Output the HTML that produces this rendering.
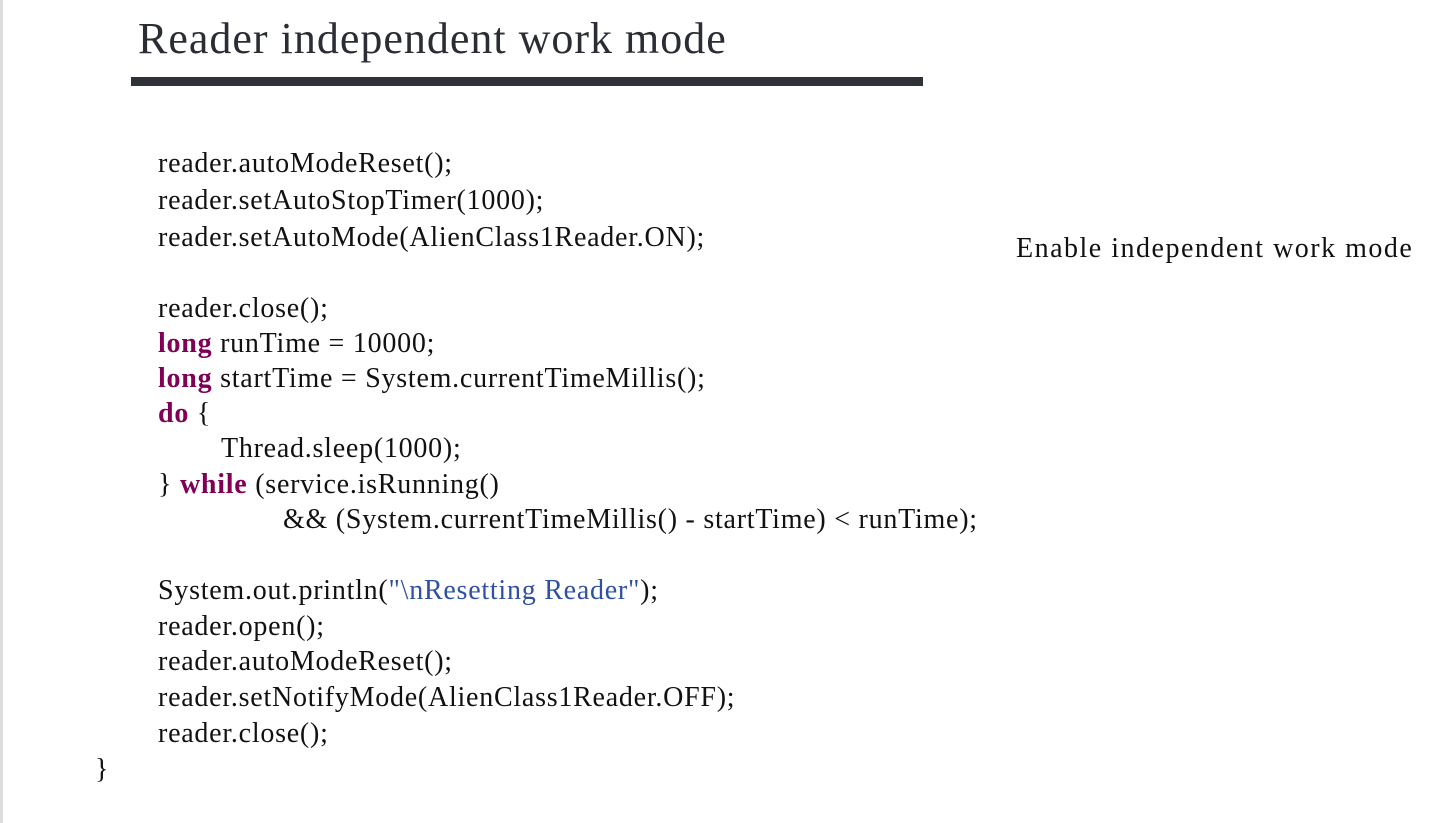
<!DOCTYPE html>
<html><head><meta charset="utf-8"><style>
body{margin:0;width:1430px;height:823px;background:#fff;position:relative;overflow:hidden;font-family:"Liberation Serif",serif}
.strip{position:absolute;left:0;top:0;width:3px;height:823px;background:#dcdcdc}
.t{position:absolute;left:138px;top:13px;font-size:44px;letter-spacing:1px;color:#2a2d33;white-space:nowrap}
.bar{position:absolute;left:131px;top:77px;width:792px;height:9px;background:#2f3238}
.c{position:absolute;font-size:28px;letter-spacing:0.75px;color:#111;white-space:nowrap;line-height:30px}
.k{color:#7f0055;font-weight:bold}
.s{color:#3050a0}
.n{position:absolute;left:1016px;top:233px;font-size:28px;letter-spacing:1.5px;color:#111;white-space:nowrap}
</style></head><body>
<div class="strip"></div>
<div class="t">Reader independent work mode</div>
<div class="bar"></div>
<div class="c" style="left:158px;top:149px">reader.autoModeReset();</div>
<div class="c" style="left:158px;top:186px">reader.setAutoStopTimer(1000);</div>
<div class="c" style="left:158px;top:223px">reader.setAutoMode(AlienClass1Reader.ON);</div>
<div class="c" style="left:158px;top:294px">reader.close();</div>
<div class="c" style="left:158px;top:329px"><span class="k">long</span> runTime = 10000;</div>
<div class="c" style="left:158px;top:364px"><span class="k">long</span> startTime = System.currentTimeMillis();</div>
<div class="c" style="left:158px;top:399px"><span class="k">do</span> {</div>
<div class="c" style="left:221px;top:434px">Thread.sleep(1000);</div>
<div class="c" style="left:158px;top:470px">} <span class="k">while</span> (service.isRunning()</div>
<div class="c" style="left:283px;top:505px">&amp;&amp; (System.currentTimeMillis() - startTime) &lt; runTime);</div>
<div class="c" style="left:158px;top:576px">System.out.println(<span class="s">"\nResetting Reader"</span>);</div>
<div class="c" style="left:158px;top:612px">reader.open();</div>
<div class="c" style="left:158px;top:647px">reader.autoModeReset();</div>
<div class="c" style="left:158px;top:683px">reader.setNotifyMode(AlienClass1Reader.OFF);</div>
<div class="c" style="left:158px;top:719px">reader.close();</div>
<div class="c" style="left:95px;top:755px">}</div>
<div class="n">Enable independent work mode</div>
</body></html>
